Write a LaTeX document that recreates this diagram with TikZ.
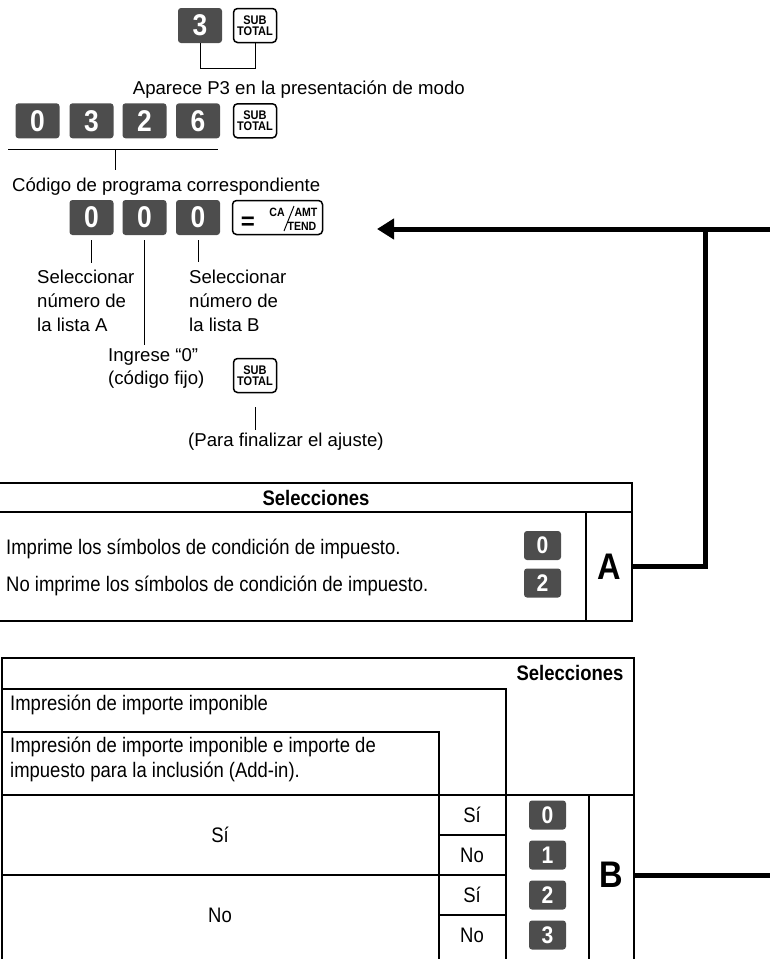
\documentclass[tikz,border=0pt]{standalone}
\usepackage{fontspec}
\setmainfont{Liberation Sans}
\newfontfamily\narrowfont[FakeStretch=0.88]{Liberation Sans}
\usetikzlibrary{arrows.meta}
\definecolor{keygray}{RGB}{77,77,77}

\begin{document}
\begin{tikzpicture}[x=1pt, y=-1pt,
  every node/.style={inner sep=0pt},
  txt/.style={font=\fontsize{18.6}{24}\selectfont, align=left},
  tabtxt/.style={font=\narrowfont\fontsize{21}{25}\selectfont, align=left},
  tabhead/.style={font=\narrowfont\bfseries\fontsize{21}{25}\selectfont},
  numkey/.style={fill=keygray, rounded corners=3pt, minimum width=44pt, minimum height=35pt,
    text=white, font=\narrowfont\bfseries\fontsize{30}{30}\selectfont},
  tabkey/.style={fill=keygray, rounded corners=3pt, minimum width=37pt, minimum height=29pt,
    text=white, font=\narrowfont\bfseries\fontsize{24}{24}\selectfont},
  subkey/.style={draw, line width=1.5pt, rounded corners=4pt, minimum width=43pt, minimum height=34pt,
    align=center, font=\narrowfont\bfseries\fontsize{12.5}{11.5}\selectfont},
  keylabel/.style={font=\narrowfont\bfseries\fontsize{12}{12}\selectfont},
  thickrule/.style={line width=2.2pt},
  thinrule/.style={line width=1.1pt},
  tick/.style={line width=1pt},
  flow/.style={line width=5pt},
  bigletter/.style={font=\narrowfont\bfseries\fontsize{37}{37}\selectfont}]

  \useasboundingbox (0,0) rectangle (770,959);

  % modo P3
  \node[numkey] (k3) at (200,25.5) {3};
  \node[subkey] (st1) at (255,25.5) {SUB\\TOTAL};
  \coordinate (b1) at (200,68);
  \coordinate (b2) at (255,68);
  \draw[tick] (k3.south) -- (b1) -- (b2) -- (st1.south);
  \node[txt, anchor=base east] (p3txt) at (465,94.6) {Aparece P3 en la presentación de modo};

  % código de programa
  \node[numkey] (c1) at (37.5,120.8) {0};
  \node[numkey] (c2) at (91.5,120.8) {3};
  \node[numkey] (c3) at (144.5,120.8) {2};
  \node[numkey] (c4) at (198,120.8) {6};
  \node[subkey] (st2) at (255,120.8) {SUB\\TOTAL};
  \coordinate (u1) at (8,149);
  \coordinate (u2) at (218,149);
  \coordinate (um) at (115,149);
  \coordinate (um2) at (115,170);
  \draw[tick] (u1) -- (u2);
  \draw[tick] (um) -- (um2);
  \node[txt, anchor=base west] (codetxt) at (12,191.6) {Código de programa correspondiente};

  % selección
  \node[numkey] (a1) at (91.5,217.5) {0};
  \node[numkey] (a2) at (144.5,217.5) {0};
  \node[numkey] (a3) at (198,217.5) {0};
  \node[draw, line width=1.5pt, rounded corners=4pt, minimum width=90pt, minimum height=34pt] (cakey) at (277.5,217.5) {};
  \node[font=\bfseries\fontsize{24}{24}\selectfont] (eqs) at (248,223.5) {=};
  \node[keylabel] (ca) at (277,212) {CA};
  \node[keylabel] (amt) at (306,212) {AMT};
  \node[keylabel] (tend) at (302,226.5) {TEND};
  \coordinate (sl1) at (284,231);
  \coordinate (sl2) at (294,206);
  \draw[line width=1pt] (sl1) -- (sl2);

  \coordinate (la1) at (91.5,263);
  \coordinate (la2) at (144.5,345);
  \coordinate (la3) at (198,262);
  \draw[tick, shorten <=5pt] (a1.south) -- (la1);
  \draw[tick, shorten <=5pt] (a2.south) -- (la2);
  \draw[tick, shorten <=5pt] (a3.south) -- (la3);

  \node[txt, anchor=base west] (lstA) at (37,331.6) {Seleccionar\\número de\\la lista A};
  \node[txt, anchor=base west] (lstB) at (189,331.6) {Seleccionar\\número de\\la lista B};
  \node[txt, anchor=base west, font=\fontsize{18.6}{22.5}\selectfont] (fijo) at (108,384.1) {Ingrese “0”\\(código fijo)};

  \node[subkey] (st3) at (255,375.5) {SUB\\TOTAL};
  \coordinate (lp) at (255,430);
  \draw[tick, shorten <=14pt] (st3.south) -- (lp);
  \node[txt, anchor=base west] (fin) at (188,446.6) {(Para finalizar el ajuste)};

  % tabla A
  \draw[thickrule] (-3,483) -- (632,483) -- (632,621) -- (-3,621);
  \draw[thickrule] (-3,512) -- (632,512);
  \draw[thickrule] (586,512) -- (586,621);
  \node[tabhead] (hdrA) at (316,497.5) {Selecciones};
  \node[tabtxt, anchor=base west] (optA1) at (6,554.5) {Imprime los símbolos de condición de impuesto.};
  \node[tabtxt, anchor=base west] (optA2) at (6,591.5) {No imprime los símbolos de condición de impuesto.};
  \node[tabkey] (ka0) at (542.5,545.5) {0};
  \node[tabkey] (ka2) at (542.5,583) {2};
  \node[bigletter, minimum width=46pt, minimum height=109pt] (cellA) at (609,566.5) {A};

  % tabla B
  \draw[thickrule] (2,962) -- (2,658) -- (634,658) -- (634,962);
  \draw[thickrule] (2,689) -- (506,689) -- (506,962);
  \draw[thinrule] (2,732) -- (439,732) -- (439,962);
  \draw[thickrule] (2,795) -- (634,795);
  \draw[thickrule] (589,795) -- (589,962);
  \draw[thinrule] (2,875) -- (506,875);
  \draw[thinrule] (439,835) -- (506,835);
  \draw[thinrule] (439,915) -- (506,915);
  \node[tabhead] (hdrB) at (570,673) {Selecciones};
  \node[tabtxt, anchor=base west] (impB1) at (10,710.5) {Impresión de importe imponible};
  \node[tabtxt, anchor=base west] (impB2) at (10,777.5) {Impresión de importe imponible e importe de\\impuesto para la inclusión (Add-in).};
  \node[tabtxt] (rowSi) at (220,835) {Sí};
  \node[tabtxt] (rowNo) at (220,915) {No};
  \node[tabtxt] (s1) at (472,815) {Sí};
  \node[tabtxt] (s2) at (472,855) {No};
  \node[tabtxt] (s3) at (472,895) {Sí};
  \node[tabtxt] (s4) at (472,935) {No};
  \node[tabkey] (kb0) at (547.5,815) {0};
  \node[tabkey] (kb1) at (547.5,855) {1};
  \node[tabkey] (kb2) at (547.5,895) {2};
  \node[tabkey] (kb3) at (547.5,935) {3};
  \node[bigletter, minimum width=45pt, minimum height=160pt] (cellB) at (611.5,875) {B};

  % flechas
  \coordinate (jA) at (705,566.5);
  \coordinate (jTop) at (705,229);
  \coordinate (rTop) at (770,229);
  \coordinate (tip) at (377,229);
  \coordinate (rB) at (770,875);
  \draw[flow] (cellA.east) -- (jA) -- (jTop);
  \draw[flow, -{Triangle[length=17pt, width=20pt]}] (rTop) -- (tip);
  \draw[flow] (cellB.east) -- (rB);

\end{tikzpicture}
\end{document}
